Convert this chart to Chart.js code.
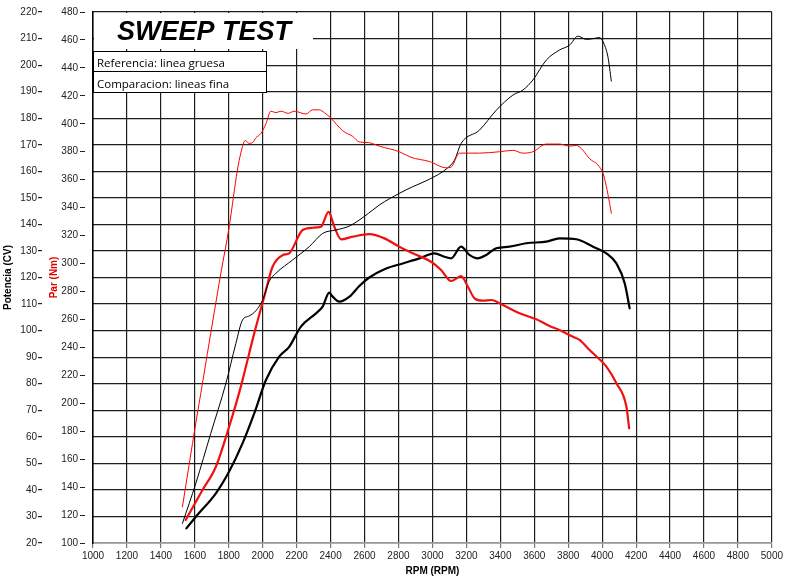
<!DOCTYPE html>
<html>
<head>
<meta charset="utf-8">
<script src="https://cdn.jsdelivr.net/npm/chart.js@4.4.0/dist/chart.umd.min.js"></script>
<style>
  body { margin: 0; background: #fff; }
  #wrap { width: 785px; height: 583px; }
</style>
</head>
<body>
<div id="wrap"><canvas id="myChart" width="785" height="583"></canvas></div>
<script>
// reference run (thick lines)
const refPowerRpm = [1550, 1606, 1724, 1802, 1881, 1950, 2019, 2097, 2156, 2225, 2314, 2353, 2392, 2412, 2451, 2511, 2569, 2628, 2727, 2825, 2923, 3012, 3071, 3110, 3169, 3218, 3267, 3317, 3376, 3454, 3553, 3671, 3749, 3848, 3946, 4025, 4084, 4133, 4162];
const refPower = [25.5, 29.9, 38.7, 46.9, 57.5, 68.8, 81.4, 90.2, 93.9, 101.5, 106.5, 109, 114.3, 112.8, 110.9, 112.8, 116.8, 120, 123.4, 125.3, 127.2, 129.1, 127.8, 127.2, 131.6, 128.5, 127.2, 128.5, 131, 131.6, 132.9, 133.5, 134.7, 134.4, 131.6, 129.1, 125.3, 117.8, 108.4];

const refTorqueRpm = [1546, 1645, 1724, 1802, 1871, 1950, 2009, 2058, 2117, 2156, 2235, 2294, 2343, 2388, 2422, 2462, 2530, 2628, 2717, 2805, 2884, 2992, 3051, 3110, 3169, 3209, 3248, 3297, 3346, 3415, 3513, 3612, 3690, 3749, 3828, 3867, 3926, 3946, 4025, 4084, 4143, 4159];
const refTorque = [116.5, 137.9, 154.6, 183.2, 211.9, 250, 276.3, 297.7, 306, 307.3, 324, 325.6, 326.3, 337, 326.3, 317.3, 319.2, 321, 318, 312, 307.3, 301.3, 295.4, 287.5, 291, 283.4, 275.1, 273.4, 273.9, 270.3, 264.4, 260.1, 255.3, 252.4, 247.6, 245.3, 238.1, 235.8, 226.2, 214.3, 197.5, 182.1];

// comparison run (thin lines)
const cmpPowerRpm = [1527, 1606, 1694, 1783, 1842, 1881, 1920, 1960, 1999, 2038, 2078, 2176, 2274, 2353, 2432, 2511, 2624, 2687, 2805, 2884, 2982, 3090, 3130, 3169, 3277, 3376, 3474, 3533, 3592, 3671, 3749, 3808, 3857, 3906, 3950, 3985, 4005, 4034, 4054];
const cmpPower = [27.4, 42.5, 61.3, 80.1, 95.2, 104, 105.5, 107.5, 111.5, 118.5, 121.6, 126.6, 131.6, 136.6, 137.9, 139.4, 144.2, 147.3, 151.7, 154.2, 157, 161.3, 164.2, 170.5, 175.5, 183, 188.7, 190.6, 194.4, 201.9, 205.7, 207.5, 210.9, 209.7, 210, 210.4, 208.8, 203.1, 194];

const cmpTorqueRpm = [1527, 1606, 1635, 1674, 1753, 1802, 1851, 1871, 1897, 1920, 1944, 1960, 1989, 2019, 2048, 2078, 2107, 2150, 2186, 2255, 2294, 2333, 2363, 2402, 2471, 2530, 2569, 2624, 2687, 2805, 2874, 2982, 3081, 3110, 3159, 3277, 3395, 3474, 3533, 3592, 3671, 3749, 3808, 3848, 3887, 3926, 3975, 4005, 4025, 4044, 4054];
const cmpTorque = [126, 186, 207, 235.7, 292.8, 326, 367, 379, 388, 386, 387, 390, 393, 400, 409, 408, 409, 407.5, 409, 407, 410, 410, 408, 404, 395, 391, 387, 386.5, 384, 380, 376, 373, 368.5, 369, 379, 379, 380, 381, 379, 380, 385.5, 385.5, 384, 384.5, 381, 375, 370.5, 364.5, 355, 343, 336];

const chartTitle = 'SWEEP TEST';
const legendRows = ['Referencia: linea gruesa', 'Comparacion: lineas fina'];

function pairs(xs, ys) {
    return xs.map((x, i) => ({ x: x, y: ys[i] }));
}

const gridColor = '#1e1e1e';
const tickFont = { family: 'Liberation Sans, Arial', size: 10 };

// white title box and the two-row note box inside the plot
const notesPlugin = {
    id: 'notes',
    beforeDatasetsDraw(chart) {
        const ctx = chart.ctx;
        const a = chart.chartArea;
        ctx.save();
        ctx.fillStyle = '#fff';
        ctx.fillRect(a.left + 1, a.top + 1, 219, 36);
        ctx.fillStyle = '#000';
        ctx.font = 'italic bold 27px "Liberation Sans", Arial';
        ctx.textBaseline = 'alphabetic';
        ctx.fillText(chartTitle, a.left + 24, a.top + 28);

        const bx = a.left + 0.5, by = a.top + 39.5, bw = 173, bh = 41;
        ctx.fillStyle = '#fff';
        ctx.fillRect(bx, by, bw, bh);
        ctx.strokeStyle = '#000';
        ctx.lineWidth = 1;
        ctx.strokeRect(bx, by, bw, bh);
        ctx.beginPath();
        ctx.moveTo(bx, by + 20);
        ctx.lineTo(bx + bw, by + 20);
        ctx.stroke();
        ctx.fillStyle = '#000';
        ctx.font = '11.5px "Open Sans"';
        ctx.fillText(legendRows[0], a.left + 4, by + 15.5);
        ctx.fillText(legendRows[1], a.left + 4, by + 36);
        ctx.restore();
    }
};

const ctx = document.getElementById('myChart').getContext('2d');
const chart = new Chart(ctx, {
    type: 'line',
    data: {
        datasets: [
            {
                label: 'Par comparacion',
                data: pairs(cmpTorqueRpm, cmpTorque),
                yAxisID: 'yTorque',
                borderColor: '#ff0000',
                borderWidth: 1
            },
            {
                label: 'Potencia comparacion',
                data: pairs(cmpPowerRpm, cmpPower),
                yAxisID: 'yPower',
                borderColor: '#000',
                borderWidth: 1
            },
            {
                label: 'Par referencia',
                data: pairs(refTorqueRpm, refTorque),
                yAxisID: 'yTorque',
                borderColor: '#f01010',
                borderWidth: 2.2
            },
            {
                label: 'Potencia referencia',
                data: pairs(refPowerRpm, refPower),
                yAxisID: 'yPower',
                borderColor: '#000',
                borderWidth: 2.2
            }
        ]
    },
    options: {
        responsive: false,
        animation: false,
        events: [],
        elements: {
            point: { radius: 0 },
            line: { cubicInterpolationMode: 'monotone', borderCapStyle: 'round', borderJoinStyle: 'round' }
        },
        layout: { padding: { top: 12, right: 12, left: 0, bottom: 0 } },
        plugins: {
            legend: { display: false },
            title: { display: false },
            tooltip: { enabled: false }
        },
        scales: {
            x: {
                type: 'linear',
                min: 1000,
                max: 5000,
                afterFit(scale) { scale.height = 40; },
                ticks: {
                    stepSize: 200,
                    color: '#222',
                    font: tickFont,
                    padding: 2,
                    maxRotation: 0,
                    callback: (v) => String(v)
                },
                grid: { color: gridColor, lineWidth: 1.2, tickLength: 5, tickColor: '#777' },
                border: { color: '#999', width: 1.5 },
                title: {
                    display: true,
                    text: 'RPM (RPM)',
                    color: '#000',
                    font: { family: 'Liberation Sans, Arial', size: 10, weight: 'bold' },
                    padding: { top: 0, bottom: 6 }
                }
            },
            yTorque: {
                position: 'left',
                weight: 0,
                min: 100,
                max: 480,
                afterFit(scale) { scale.width = 51; },
                ticks: { stepSize: 20, color: '#222', font: tickFont, padding: 2 },
                grid: {
                    drawOnChartArea: false,
                    tickLength: 13,
                    tickColor: '#222',
                    tickBorderDash: [5, 20]
                },
                border: { color: '#000', width: 1.5 },
                title: {
                    display: true,
                    text: 'Par (Nm)',
                    color: '#e00000',
                    font: { family: 'Liberation Sans, Arial', size: 10, weight: 'bold' },
                    padding: { top: 6, bottom: 0 }
                }
            },
            yPower: {
                position: 'left',
                weight: 1,
                min: 20,
                max: 220,
                afterFit(scale) { scale.width = 42; },
                ticks: { stepSize: 10, color: '#222', font: tickFont, padding: 1 },
                grid: { color: gridColor, lineWidth: 1.2, tickLength: 4, tickColor: '#222' },
                border: { display: false },
                title: {
                    display: true,
                    text: 'Potencia (CV)',
                    color: '#000',
                    font: { family: 'Liberation Sans, Arial', size: 10, weight: 'bold' },
                    padding: { top: 2, bottom: 0 }
                }
            }
        }
    },
    plugins: [notesPlugin]
});
</script>
</body>
</html>
